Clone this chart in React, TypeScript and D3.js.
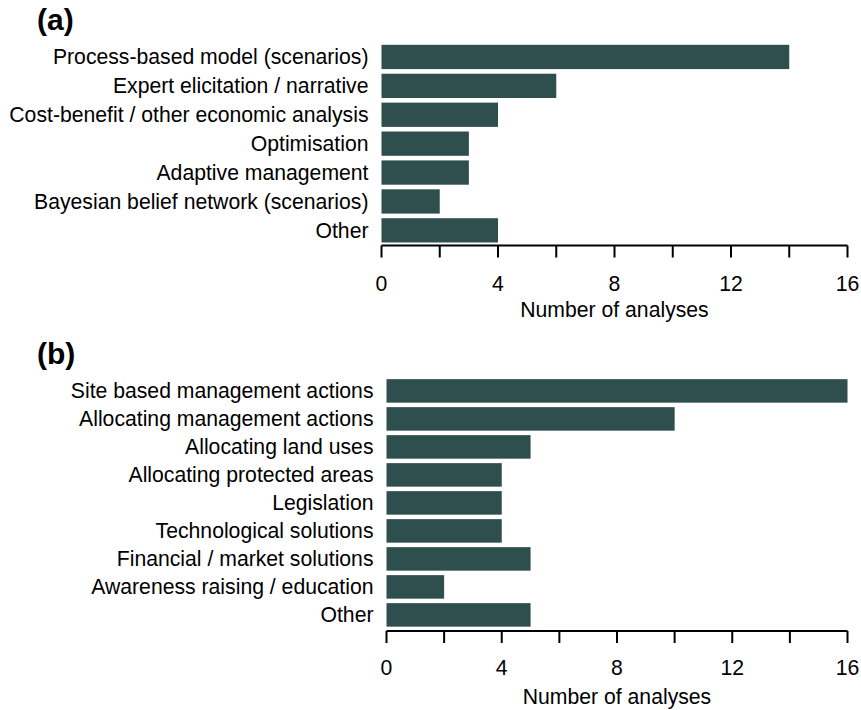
import React from "react";
import * as d3 from "d3";

const methodLabels = [
  "Process-based model (scenarios)",
  "Expert elicitation / narrative",
  "Cost-benefit / other economic analysis",
  "Optimisation",
  "Adaptive management",
  "Bayesian belief network (scenarios)",
  "Other",
];
const methodCounts = [14, 6, 4, 3, 3, 2, 4];

const actionLabels = [
  "Site based management actions",
  "Allocating management actions",
  "Allocating land uses",
  "Allocating protected areas",
  "Legislation",
  "Technological solutions",
  "Financial / market solutions",
  "Awareness raising / education",
  "Other",
];
const actionCounts = [16, 10, 5, 4, 4, 4, 5, 2, 5];

const tickValues = [0, 2, 4, 6, 8, 10, 12, 14, 16];
const labelledTicks = [0, 4, 8, 12, 16];
const axisTitle = "Number of analyses";

const BAR = "#2f4f4f";
const FONT = "'Liberation Sans', Arial, Helvetica, sans-serif";
const FS = 21.2;

type PanelProps = {
  tag: string;
  labels: string[];
  counts: number[];
  x0: number;
  x1: number;
  y0: number;
  y1: number;
  axisY: number;
  tickLabelY: number;
  titleY: number;
  tagY: number;
};

function Panel(p: PanelProps) {
  const x = d3.scaleLinear().domain([0, 16]).range([p.x0, p.x1]);
  const y = d3
    .scaleBand<string>()
    .domain(p.labels)
    .range([p.y0, p.y1])
    .paddingInner(0.16)
    .paddingOuter(0.08);
  const bw = y.bandwidth();
  return (
    <g>
      <text x={37} y={p.tagY} fontSize={30} fontWeight="bold" fontFamily={FONT} fill="#000">
        {p.tag}
      </text>
      {p.labels.map((l, i) => (
        <g key={l}>
          <rect
            x={x(0)}
            y={y(l)!}
            width={x(p.counts[i]) - x(0)}
            height={bw}
            fill={BAR}
          />
          <text
            x={x(0) - 13}
            y={y(l)! + bw / 2 + 7.5}
            textAnchor="end"
            fontSize={FS}
            fontFamily={FONT}
            fill="#000"
          >
            {l}
          </text>
        </g>
      ))}
      <line x1={x(0)} x2={x(16)} y1={p.axisY} y2={p.axisY} stroke="#000" strokeWidth={2} />
      {tickValues.map((t) => (
        <line
          key={t}
          x1={x(t)}
          x2={x(t)}
          y1={p.axisY}
          y2={p.axisY + 12}
          stroke="#000"
          strokeWidth={2}
        />
      ))}
      {labelledTicks.map((t) => (
        <text
          key={t}
          x={x(t)}
          y={p.tickLabelY}
          textAnchor="middle"
          fontSize={FS}
          fontFamily={FONT}
          fill="#000"
        >
          {t}
        </text>
      ))}
      <text
        x={(x(0) + x(16)) / 2}
        y={p.titleY}
        textAnchor="middle"
        fontSize={FS}
        fontFamily={FONT}
        fill="#000"
      >
        {axisTitle}
      </text>
    </g>
  );
}

export default function App() {
  return (
    <svg
      width={861}
      height={710}
      style={{ position: "absolute", left: 0, top: 0, background: "#fff" }}
    >
      <rect width={861} height={710} fill="#fff" />
      <Panel
        tag="(a)"
        labels={methodLabels}
        counts={methodCounts}
        x0={381.5}
        x1={847.5}
        y0={42.5}
        y1={244.8}
        axisY={245.5}
        tickLabelY={290.5}
        titleY={316.5}
        tagY={30}
      />
      <Panel
        tag="(b)"
        labels={actionLabels}
        counts={actionCounts}
        x0={386.5}
        x1={847.5}
        y0={376.9}
        y1={628.9}
        axisY={631}
        tickLabelY={674.5}
        titleY={704}
        tagY={364}
      />
    </svg>
  );
}
